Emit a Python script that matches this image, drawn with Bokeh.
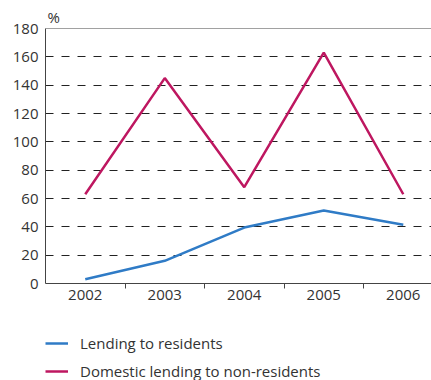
from bokeh.plotting import figure
from bokeh.layouts import column
from bokeh.models import FixedTicker, Span, Legend, LegendItem, Range1d
from bokeh.embed import file_html
from bokeh.resources import INLINE

years = ["2002", "2003", "2004", "2005", "2006"]
residents = [3, 16, 39.5, 51.5, 41.5]
non_residents = [63, 145, 68, 163, 63]
y_ticks = [0, 20, 40, 60, 80, 100, 120, 140, 160, 180]
series_names = ["Lending to residents", "Domestic lending to non-residents"]
series_colors = ["#2f7bc6", "#be1760"]

FONT = "Open Sans"
FS = "15px"
TXT = "#333333"
AX = "#444444"

xs = list(range(len(years)))

p = figure(width=431, height=320, output_backend="svg", toolbar_location=None,
           x_range=Range1d(-0.5, 4.355), y_range=Range1d(0, 180),
           min_border_left=45, min_border_right=0, min_border_top=28, min_border_bottom=37)
p.outline_line_color = None

p.title.text = "%"
p.title.align = "left"
p.title.offset = 2
p.title.standoff = 3
p.title.text_font = FONT
p.title.text_font_size = FS
p.title.text_font_style = "normal"
p.title.text_color = TXT

# x axis
p.xaxis.ticker = FixedTicker(ticks=xs, minor_ticks=[i + 0.5 for i in xs[:-1]])
p.xaxis.major_label_overrides = {i: y for i, y in enumerate(years)}
p.xaxis.major_tick_line_color = None
p.xaxis.major_tick_out = 0
p.xaxis.major_tick_in = 0
p.xaxis.minor_tick_line_color = AX
p.xaxis.minor_tick_out = 5
p.xaxis.minor_tick_in = 0
p.xaxis.axis_line_color = AX
p.xaxis.major_label_standoff = 1

# y axis
p.yaxis.ticker = FixedTicker(ticks=y_ticks)
p.yaxis.major_tick_line_color = None
p.yaxis.major_tick_out = 0
p.yaxis.major_tick_in = 0
p.yaxis.minor_tick_line_color = None
p.yaxis.axis_line_color = AX
p.yaxis.major_label_standoff = 7

for ax in (p.xaxis, p.yaxis):
    ax.major_label_text_font = FONT
    ax.major_label_text_font_size = FS
    ax.major_label_text_color = TXT

p.xgrid.grid_line_color = None
p.ygrid.ticker = FixedTicker(ticks=y_ticks[1:-1])
p.ygrid.grid_line_color = "#222222"
p.ygrid.grid_line_dash = "8 8"
p.ygrid.grid_line_width = 1

p.add_layout(Span(location=180, dimension="width", line_color=AX, line_width=1))

p.line(xs, residents, line_color=series_colors[0], line_width=2.5)
p.line(xs, non_residents, line_color=series_colors[1], line_width=2.5)

# legend panel (its lines sit outside the visible range; only the swatches show)
p2 = figure(width=431, height=60, output_backend="svg", toolbar_location=None,
            x_range=Range1d(-20, -19), y_range=Range1d(-20, -19),
            x_axis_location=None, y_axis_location=None,
            min_border_left=0, min_border_right=0, min_border_top=0, min_border_bottom=0)
p2.outline_line_color = None
p2.grid.grid_line_color = None
items = []
for name, col, vals in zip(series_names, series_colors, [residents, non_residents]):
    r = p2.line(xs, vals, line_color=col, line_width=2.5)
    items.append(LegendItem(label=name, renderers=[r]))

legend = Legend(items=items, location=(0, -1), orientation="vertical",
                glyph_width=23, glyph_height=18, label_height=18, spacing=8,
                label_standoff=12, padding=0, margin=0,
                border_line_color=None, background_fill_alpha=0,
                label_text_font=FONT, label_text_font_size=FS, label_text_color=TXT)
p2.add_layout(legend, "center")

layout = column(p, p2, spacing=0)
open("out.html", "w").write(file_html(layout, INLINE))
